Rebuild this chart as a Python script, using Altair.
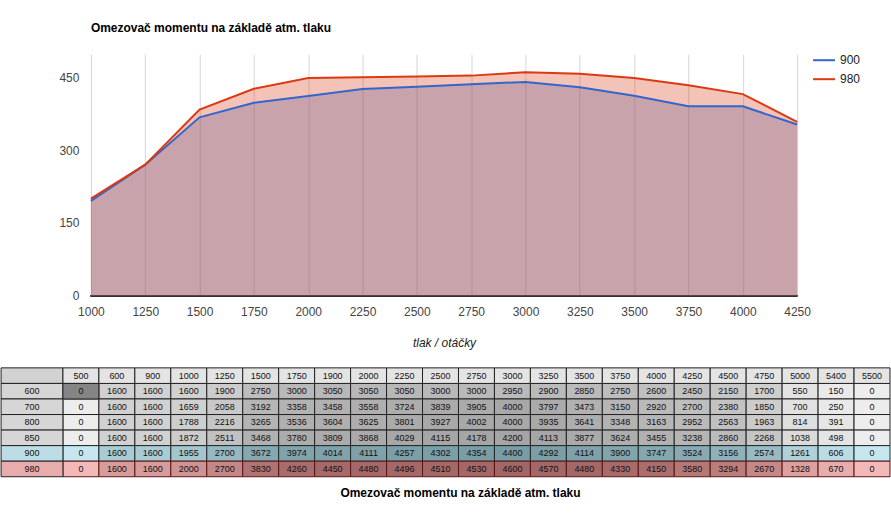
import altair as alt
import pandas as pd

# ---------------- chart data ----------------
rpm = [1000, 1250, 1500, 1750, 2000, 2250, 2500, 2750, 3000, 3250, 3500, 3750, 4000, 4250]
torque_900 = [195.5, 270, 367.2, 397.4, 411.1, 425.7, 430.2, 435.4, 440, 429.2, 411.4, 390, 390, 352.4]
torque_980 = [200, 270, 383, 426, 448, 449.6, 451, 453, 460, 457, 448, 433, 415, 358]
series_names = ["900", "980"]
y_ticks = [0, 150, 300, 450]

# ---------------- table data ----------------
table_cols = [500, 600, 900, 1000, 1250, 1500, 1750, 1900, 2000, 2250, 2500, 2750,
              3000, 3250, 3500, 3750, 4000, 4250, 4500, 4750, 5000, 5400, 5500]
table_rows = ["600", "700", "800", "850", "900", "980"]
row_600 = [0, 1600, 1600, 1600, 1900, 2750, 3000, 3050, 3050, 3050, 3000, 3000, 2950, 2900, 2850, 2750, 2600, 2450, 2150, 1700, 550, 150, 0]
row_700 = [0, 1600, 1600, 1659, 2058, 3192, 3358, 3458, 3558, 3724, 3839, 3905, 4000, 3797, 3473, 3150, 2920, 2700, 2380, 1850, 700, 250, 0]
row_800 = [0, 1600, 1600, 1788, 2216, 3265, 3536, 3604, 3625, 3801, 3927, 4002, 4000, 3935, 3641, 3348, 3163, 2952, 2563, 1963, 814, 391, 0]
row_850 = [0, 1600, 1600, 1872, 2511, 3468, 3780, 3809, 3868, 4029, 4115, 4178, 4200, 4113, 3877, 3624, 3455, 3238, 2860, 2268, 1038, 498, 0]
row_900 = [0, 1600, 1600, 1955, 2700, 3672, 3974, 4014, 4111, 4257, 4302, 4354, 4400, 4292, 4114, 3900, 3747, 3524, 3156, 2574, 1261, 606, 0]
row_980 = [0, 1600, 1600, 2000, 2700, 3830, 4260, 4450, 4480, 4496, 4510, 4530, 4600, 4570, 4480, 4330, 4150, 3580, 3294, 2670, 1328, 670, 0]
row_values = [row_600, row_700, row_800, row_850, row_900, row_980]
row_groups = ["grey", "grey", "grey", "grey", "900", "980"]
highlight_cells = [("600", 500)]

TITLE = "Omezovač momentu na základě atm. tlaku"
FONT = "Liberation Sans"
FIRST_COL = 1.72      # width of the label column, in data-column units
TABLE_W = 800         # table width measured from the chart's plot origin
COL_PX = 36           # px per table column
TABLE_X0 = len(table_cols) - TABLE_W / COL_PX   # table domain start at the plot origin

# ---------------- top chart ----------------
chart_df = pd.DataFrame({
    "rpm": rpm * 2,
    "torque": torque_900 + torque_980,
    "series": [series_names[0]] * len(rpm) + [series_names[1]] * len(rpm),
})

x_enc = alt.X("rpm:Q",
              scale=alt.Scale(domain=[rpm[0], rpm[-1]], nice=False, zero=False),
              axis=alt.Axis(values=rpm, format="d", title="tlak / otáčky", ticks=False, domain=False,
                            gridColor="#d6d6d6", labelFlush=False, labelOverlap=False,
                            labelFontSize=12, labelColor="#444444", labelPadding=11, labelFont=FONT,
                            titleFont=FONT, titleFontSize=12, titleFontStyle="italic",
                            titleFontWeight="normal", titleColor="#222222", titlePadding=20))
y_enc = alt.Y("torque:Q",
              scale=alt.Scale(domain=[0, 497], nice=False),
              axis=alt.Axis(values=y_ticks, ticks=False, domain=False, gridColor="#d6d6d6", title=None,
                            labelFontSize=12, labelColor="#444444", labelPadding=12, labelFont=FONT))
color_enc = alt.Color("series:N",
                      scale=alt.Scale(domain=series_names, range=["#3366cc", "#dc3912"]),
                      legend=alt.Legend(title=None, orient="right", offset=17, padding=0,
                                        symbolType="M-2.2,0H2.2", symbolSize=100,
                                        symbolStrokeWidth=2, symbolOpacity=1,
                                        symbolFillColor="transparent",
                                        labelFontSize=12, labelColor="#222222", labelFont=FONT,
                                        labelOffset=10, rowPadding=7))

base = alt.Chart(chart_df)
baseline = base.mark_rule(color="#333333", strokeWidth=1).encode(y=alt.datum(0))
area900 = base.transform_filter(alt.datum.series == series_names[0]).mark_area(opacity=0.3).encode(
    x=x_enc, y=y_enc, color=color_enc)
area980 = base.transform_filter(alt.datum.series == series_names[1]).mark_area(opacity=0.3).encode(
    x=x_enc, y=y_enc, color=color_enc)
lines = base.mark_line(strokeWidth=2).encode(x=x_enc, y=y_enc, color=color_enc)

top = alt.layer(baseline, area900, area980, lines).properties(
    width=707, height=242,
    title=alt.TitleParams(TITLE, anchor="start", frame="group", fontSize=12, fontWeight="bold",
                          font=FONT, color="#000000", offset=19),
)

# ---------------- table chart ----------------
records = []
records.append({"c0": -FIRST_COL, "c1": 0, "r": 0, "kind": "corner", "text": "", "group": "frame", "value": 0})
for c, col in enumerate(table_cols):
    records.append({"c0": c, "c1": c + 1, "r": 0, "kind": "header", "text": str(col), "group": "frame", "value": 0})
for r, (lab, vals, grp) in enumerate(zip(table_rows, row_values, row_groups), start=1):
    records.append({"c0": -FIRST_COL, "c1": 0, "r": r, "kind": "lab_" + grp, "text": lab, "group": "frame", "value": 0})
    for c, v in enumerate(vals):
        records.append({"c0": c, "c1": c + 1, "r": r, "kind": "cell", "text": str(v), "group": grp, "value": v})
for lab, col in highlight_cells:
    r = table_rows.index(lab) + 1
    c = table_cols.index(col)
    records.append({"c0": c, "c1": c + 1, "r": r, "kind": "hl", "text": "", "group": "frame", "value": 0})

table_df = pd.DataFrame(records)
tbase = alt.Chart(table_df).transform_calculate(
    r1="datum.r + 1", cm="(datum.c0 + datum.c1) / 2", rm="datum.r + 0.5")

x_scale_t = alt.Scale(domain=[TABLE_X0, len(table_cols)], nice=False, zero=False)
y_scale_t = alt.Scale(domain=[0, len(table_rows) + 1], nice=False, zero=False, reverse=True)
tx = alt.X("c0:Q", scale=x_scale_t, axis=None)
ty = alt.Y("r:Q", scale=y_scale_t, axis=None)


def value_layer(grp, rng, dom_max, stroke):
    return tbase.transform_filter(alt.datum.group == grp).mark_rect(stroke=stroke, strokeWidth=1).encode(
        x=tx, x2="c1:Q", y=ty, y2="r1:Q",
        color=alt.Color("value:Q", scale=alt.Scale(domain=[0, dom_max], range=rng), legend=None))


grey_layer = value_layer("grey", ["#ededed", "#9e9e9e"], 4600, "#222222")
blue_layer = value_layer("900", ["#c6e7f0", "#7a9ca5"], 4400, "#1f2a2c")
red_layer = value_layer("980", ["#f3b8b8", "#a36666"], 4600, "#5a1414")

frame_kinds = ["corner", "header", "lab_grey", "lab_900", "lab_980", "hl"]
frame_colors = ["#d2d2d2", "#e4e4e4", "#d6d6d6", "#bddde6", "#e9acac", "#858585"]
frame_layer = tbase.transform_filter(alt.datum.group == "frame").mark_rect(stroke="#222222", strokeWidth=1).encode(
    x=tx, x2="c1:Q", y=ty, y2="r1:Q",
    color=alt.Color("kind:N", scale=alt.Scale(domain=frame_kinds, range=frame_colors), legend=None))

text_layer = tbase.mark_text(font=FONT, fontSize=9, color="#111111", baseline="middle", align="center").encode(
    x=alt.X("cm:Q", scale=x_scale_t, axis=None),
    y=alt.Y("rm:Q", scale=y_scale_t, axis=None),
    text="text:N")

table = alt.layer(grey_layer, blue_layer, red_layer, frame_layer, text_layer).resolve_scale(
    color="independent").properties(
    width=TABLE_W, height=109,
    title=alt.TitleParams(TITLE, orient="bottom", anchor="middle", frame="group", fontSize=12,
                          fontWeight="bold", font=FONT, color="#000000", offset=11, dx=-30),
)

chart = alt.vconcat(top, table, spacing=18).resolve_scale(
    color="independent", x="independent", y="independent").resolve_legend(color="independent").properties(
    padding={"left": 0, "top": 22, "right": 0, "bottom": 5},
    background="white",
).configure_view(stroke=None)

chart.save("out.html", embed_options={"renderer": "svg", "actions": False})
